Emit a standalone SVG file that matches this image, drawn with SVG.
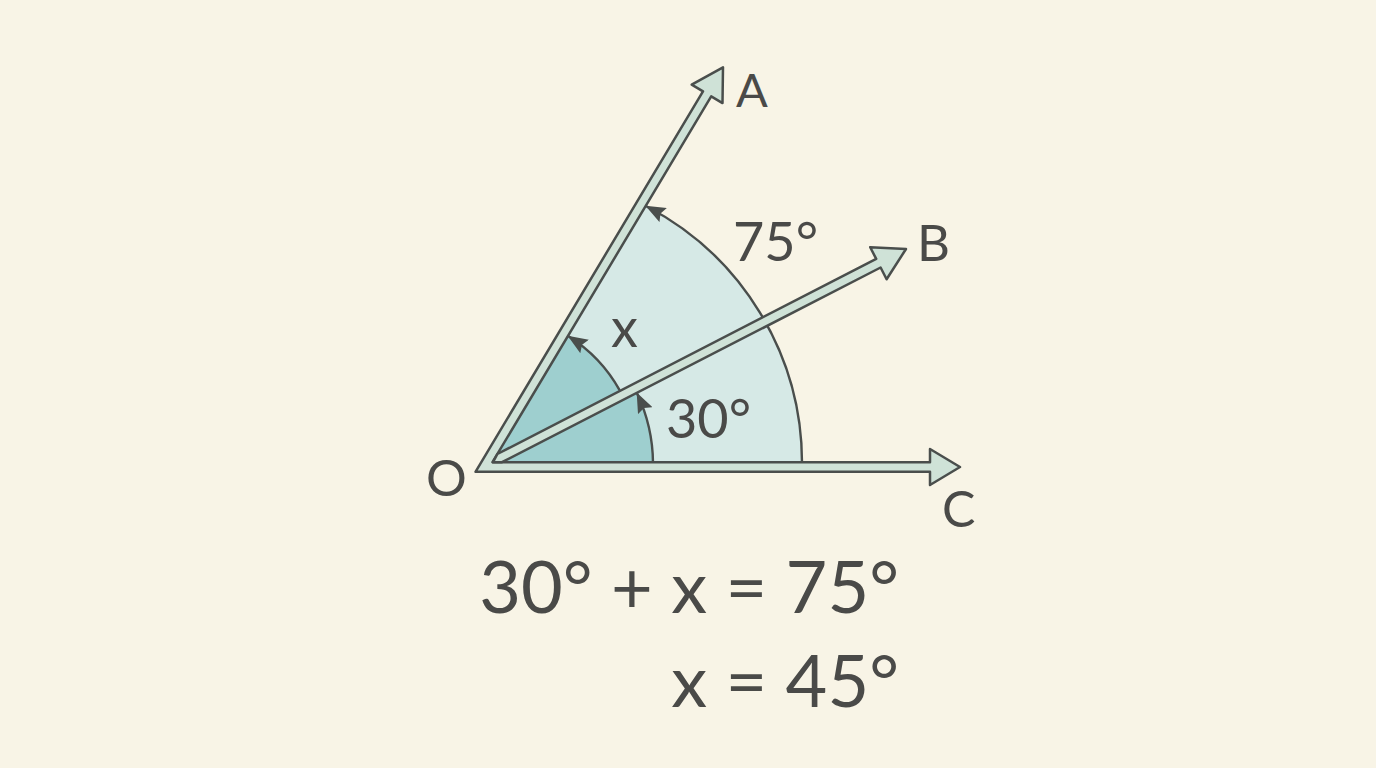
<svg xmlns="http://www.w3.org/2000/svg" width="1376" height="768" viewBox="0 0 1376 768">
  <defs>
    <marker id="arcHead" viewBox="0 0 20 16" refX="19" refY="8" markerWidth="20" markerHeight="16" markerUnits="userSpaceOnUse" orient="auto">
      <path d="M0,0 L20,8 L0,16 L3,8 Z" fill="#4a4e4c"/>
    </marker>
  </defs>
  <style>
    .ray { fill: #cfe2d7; stroke: #4a4e4c; stroke-width: 2.5; stroke-linejoin: round; }
    .arc { fill: none; stroke: #4a4e4c; stroke-width: 2.4; marker-end: url(#arcHead); }
    .lbl { font-family: Lato, "Liberation Sans", sans-serif; fill: #4a4a48; }
  </style>
  <rect width="1376" height="768" fill="#f8f4e6"/>

  <g id="sectors">
    <path d="M484,467 L802,467 L802,462.8 A289.4,289.4 0 0 0 646.3,206.2 L640,205 Z" fill="#d6e9e6"/>
    <path d="M488,464 L653,464 A165,165 0 0 0 634.8,388.6 Z" fill="#9ecfcf"/>
    <path d="M488,464 L622.3,395 A151,151 0 0 0 565.5,334.4 Z" fill="#9ecfcf"/>
  </g>

  <g id="connectors">
    <path class="arc" d="M802,462.5 A289.4,289.4 0 0 0 646.3,206.2"/>
    <path class="arc" d="M653,463 A165,165 0 0 0 637.1,393.5"/>
    <path class="arc" d="M619.6,390.2 A151,151 0 0 0 568.5,336.3"/>
  </g>

  <g id="ray-OA-OC">
    <polygon class="ray" points="960,467 930,485 930,471.8 475.5,471.8 703,91.4 691.7,84.7 723,67.3 722.5,103.1 711.2,96.4 492.5,462.2 930,462.2 930,449"/>
  </g>
  <g id="ray-OB">
    <polygon class="ray" points="497.4,454 876.2,258.9 870.2,247.2 906,249 886.6,279.2 880.6,267.5 502,462.2 493,462.2"/>
  </g>

  <g id="label-A"><text class="lbl" x="736" y="107" font-size="47">A</text></g>
  <g id="label-B"><text class="lbl" x="917" y="261" font-size="51">B</text></g>
  <g id="label-C"><text class="lbl" x="942" y="527" font-size="50">C</text></g>
  <g id="label-O"><text class="lbl" x="426" y="496" font-size="51">O</text></g>
  <g id="label-75"><text class="lbl" x="733" y="261" font-size="54">75°</text></g>
  <g id="label-30"><text class="lbl" x="666" y="438" font-size="54">30°</text></g>
  <g id="label-x"><text class="lbl" x="611" y="347" font-size="54">x</text></g>

  <g id="equations">
    <text class="lbl" x="899" y="613" font-size="72" text-anchor="end">30° + x = 75°</text>
    <text class="lbl" x="899" y="707" font-size="72" text-anchor="end">x = 45°</text>
  </g>
</svg>
